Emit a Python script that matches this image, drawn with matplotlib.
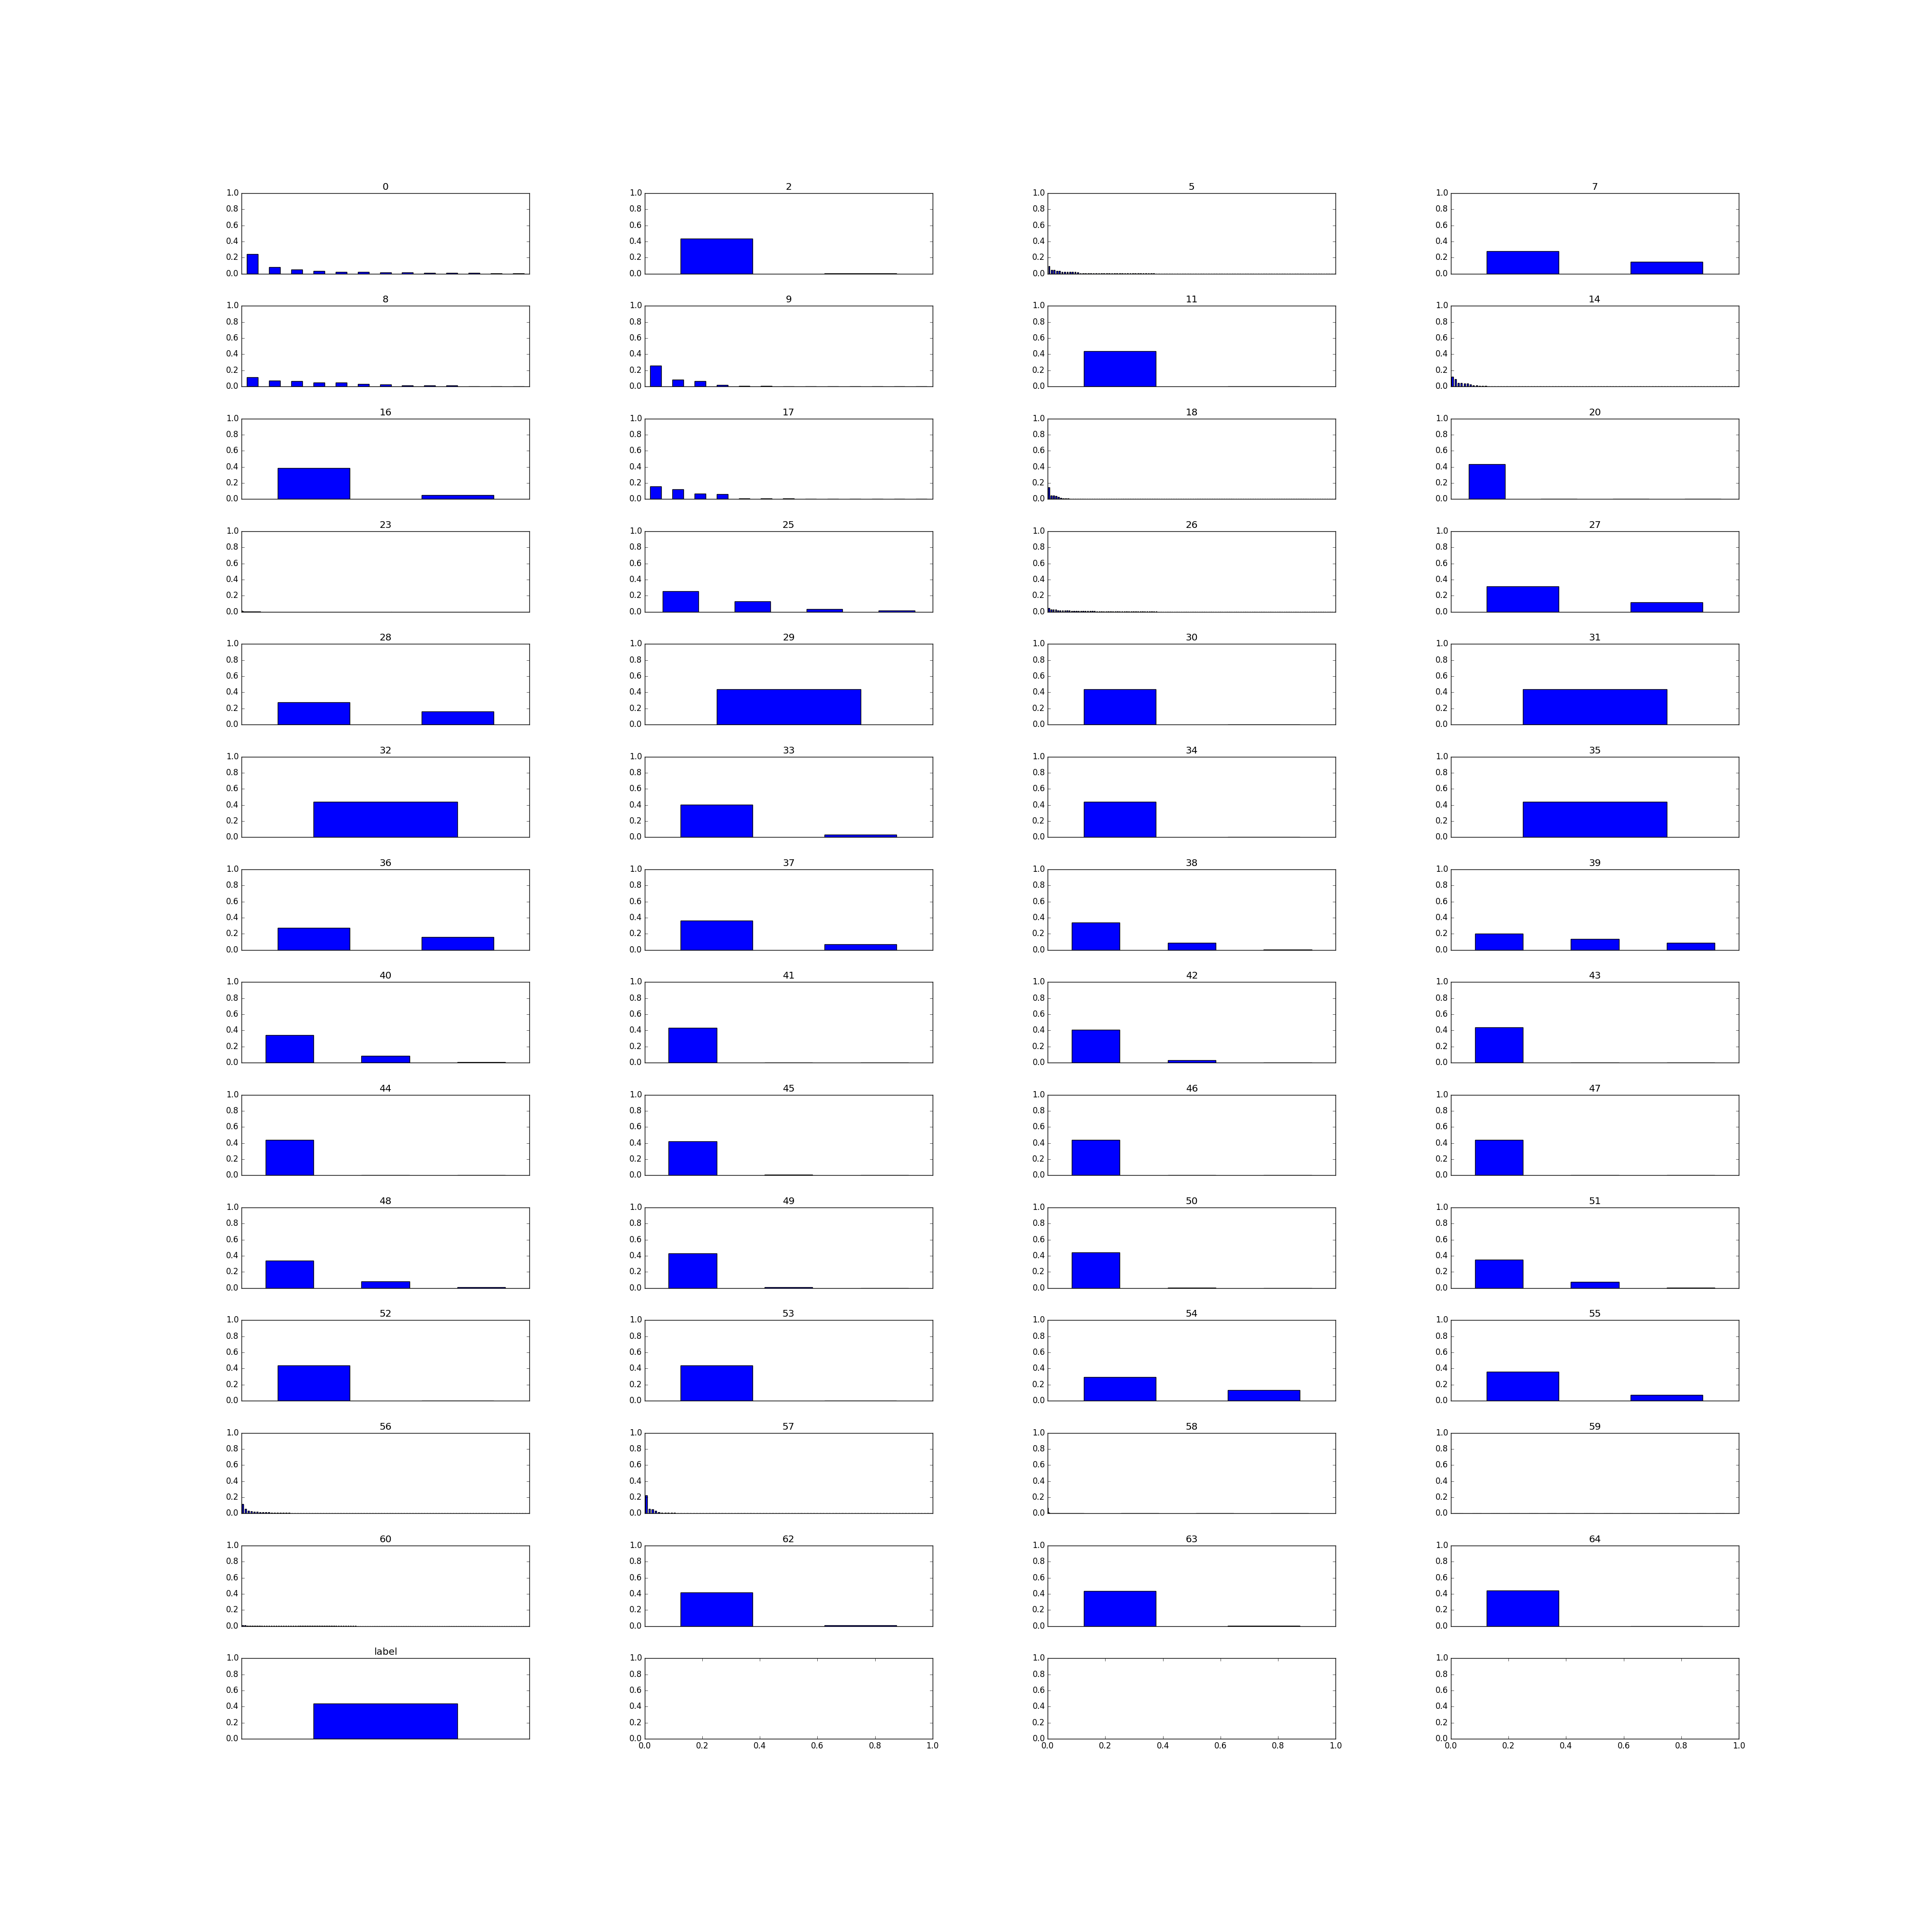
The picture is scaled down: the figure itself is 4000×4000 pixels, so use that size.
import numpy as np
import matplotlib
matplotlib.use('Agg')
from matplotlib import pyplot as plt

plt.style.use('classic')

# panel titles, row by row
titles = ['0', '2', '5', '7',
          '8', '9', '11', '14',
          '16', '17', '18', '20',
          '23', '25', '26', '27',
          '28', '29', '30', '31',
          '32', '33', '34', '35',
          '36', '37', '38', '39',
          '40', '41', '42', '43',
          '44', '45', '46', '47',
          '48', '49', '50', '51',
          '52', '53', '54', '55',
          '56', '57', '58', '59',
          '60', '62', '63', '64',
          'label']

# normalised frequencies per column
v0 = [0.242, 0.08, 0.05, 0.032, 0.02, 0.02, 0.014, 0.014, 0.008, 0.008, 0.008, 0.004, 0.003]
v2 = [0.437, 0.003]
v5 = [0.094, 0.044, 0.044, 0.032, 0.032, 0.02, 0.02, 0.02, 0.02, 0.02, 0.02, 0.014] + [0.004] * 29
n5 = 110
v7 = [0.28, 0.15]
v8 = [0.114, 0.072, 0.066, 0.048, 0.048, 0.03, 0.022, 0.012, 0.012, 0.012, 0.003, 0.002, 0.002]
v9 = [0.256, 0.084, 0.066, 0.016, 0.006, 0.006, 0.002, 0.001, 0.001, 0.001, 0.001, 0.001, 0.001]
v11 = [0.44, 0.001]
v14 = [0.12, 0.09, 0.04, 0.04, 0.034, 0.034, 0.024, 0.012, 0.012, 0.006, 0.006, 0.006]
n14 = 95
v16 = [0.385, 0.05]
v17 = [0.158, 0.122, 0.068, 0.062, 0.006, 0.006, 0.006, 0.001, 0.001, 0.001, 0.001, 0.001, 0.001]
v18 = [0.144, 0.044, 0.044, 0.036, 0.024, 0.012, 0.01, 0.006, 0.006, 0.004, 0.004, 0.004, 0.004, 0.004]
n18 = 120
v20 = [0.435, 0.002, 0.002, 0.001]
v23 = [0.014, 0.008, 0.006] + [0.004] * 17
n23 = 300
v25 = [0.255, 0.13, 0.035, 0.015]
v26 = [0.044, 0.03, 0.026, 0.026] + [0.016] * 6 + [0.008] * 11 + [0.002] * 27
n26 = 126
v27 = [0.315, 0.12]
v28 = [0.275, 0.16]
v29 = [0.44]
v30 = [0.44, 0.0005]
v31 = [0.44]
v32 = [0.44]
v33 = [0.405, 0.03]
v34 = [0.44, 0.0005]
v35 = [0.44]
v36 = [0.275, 0.16]
v37 = [0.365, 0.07]
v38 = [0.34, 0.09, 0.005]
v39 = [0.2, 0.135, 0.09]
v40 = [0.345, 0.085, 0.005]
v41 = [0.435, 0.003, 0.0]
v42 = [0.41, 0.03, 0.0]
v43 = [0.44, 0.0, 0.0]
v44 = [0.44, 0.0, 0.0]
v45 = [0.42, 0.01, 0.0]
v46 = [0.44, 0.002, 0.0]
v47 = [0.44, 0.001, 0.0]
v48 = [0.34, 0.085, 0.01]
v49 = [0.43, 0.01, 0.0]
v50 = [0.44, 0.002, 0.0]
v51 = [0.355, 0.075, 0.005]
v52 = [0.44, 0.002]
v53 = [0.44, 0.0]
v54 = [0.295, 0.135]
v55 = [0.36, 0.075]
v56 = [0.116, 0.056, 0.032, 0.026, 0.02, 0.02, 0.014, 0.014, 0.014, 0.014] + [0.008] * 7
n56 = 100
v57 = [0.224, 0.056, 0.052, 0.03, 0.012, 0.006, 0.006, 0.006, 0.006, 0.006]
n57 = 91
v58 = [0.07, 0.012, 0.008, 0.006, 0.004, 0.004]
n58 = 600
v59 = [0.003, 0.002, 0.002, 0.001]
n59 = 800
v60 = [0.012, 0.008, 0.006] + [0.003] * 45
n60 = 120
v62 = [0.42, 0.012]
v63 = [0.435, 0.006]
v64 = [0.44, 0.0]
vlabel = [0.44]


def pad(vals, n=None):
    # remaining categories are effectively zero
    if n is None:
        return vals
    return vals + [0.0] * (n - len(vals))


panels = [v0, v2, pad(v5, n5), v7,
          v8, v9, v11, pad(v14, n14),
          v16, v17, pad(v18, n18), v20,
          pad(v23, n23), v25, pad(v26, n26), v27,
          v28, v29, v30, v31,
          v32, v33, v34, v35,
          v36, v37, v38, v39,
          v40, v41, v42, v43,
          v44, v45, v46, v47,
          v48, v49, v50, v51,
          v52, v53, v54, v55,
          pad(v56, n56), pad(v57, n57), pad(v58, n58), pad(v59, n59),
          pad(v60, n60), v62, v63, v64,
          vlabel]

fig, axes = plt.subplots(14, 4, figsize=(40, 40))
plt.subplots_adjust(left=0.125, right=0.9, bottom=0.1, top=0.9, wspace=0.4, hspace=0.4)

yt = [0.0, 0.2, 0.4, 0.6, 0.8, 1.0]
for i, ax in enumerate(axes.flat):
    ax.set_ylim(0, 1)
    ax.set_yticks(yt)
    if i < len(panels):
        vals = panels[i]
        x = np.arange(len(vals))
        ax.bar(x, vals, width=0.5, align='center', color='b', edgecolor='k')
        ax.set_xlim(-0.5, len(vals) - 0.5)
        ax.set_xticks([])
        ax.set_title(titles[i])
    else:
        ax.set_xlim(0, 1)
        ax.set_xticks(yt)

plt.savefig('out.png', dpi=100)
